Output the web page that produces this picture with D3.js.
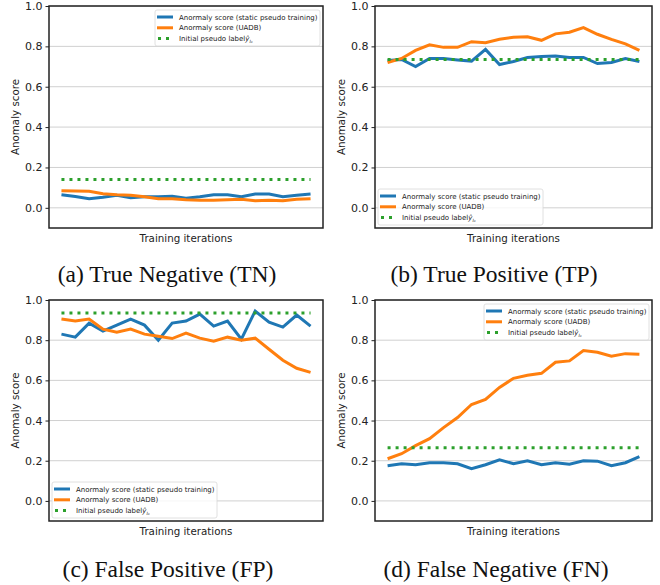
<!DOCTYPE html>
<html>
<head>
<meta charset="utf-8">
<script src="https://cdn.jsdelivr.net/npm/d3@7"></script>
<style>
  body { margin: 0; background: #fff; }
  svg { display: block; }
</style>
</head>
<body>
<script>
var width = 660,
    height = 585;

// 19 training iterations per panel
var iterations = d3.range(19);
var yTicks = [0.0, 0.2, 0.4, 0.6, 0.8, 1.0];

var seriesNames = ["Anormaly score (static pseudo training)", "Anormaly score (UADB)", "Initial pseudo label"];
var captions = ["(a) True Negative (TN)", "(b) True Positive (TP)", "(c) False Positive (FP)", "(d) False Negative (FN)"];

// (a) TN
var tnStatic = [0.065, 0.056, 0.045, 0.052, 0.062, 0.050, 0.055, 0.055, 0.057, 0.048, 0.055, 0.065, 0.065, 0.055, 0.068, 0.068, 0.055, 0.062, 0.068];
var tnUadb   = [0.085, 0.083, 0.082, 0.070, 0.065, 0.062, 0.055, 0.045, 0.045, 0.040, 0.038, 0.038, 0.040, 0.042, 0.035, 0.037, 0.035, 0.042, 0.045];
var tnInit = 0.14;

// (b) TP
var tpStatic = [0.730, 0.735, 0.700, 0.740, 0.740, 0.733, 0.727, 0.785, 0.710, 0.725, 0.745, 0.750, 0.752, 0.745, 0.745, 0.715, 0.720, 0.740, 0.725];
var tpUadb   = [0.720, 0.740, 0.780, 0.808, 0.795, 0.795, 0.823, 0.818, 0.835, 0.845, 0.848, 0.830, 0.862, 0.870, 0.893, 0.860, 0.835, 0.812, 0.780];
var tpInit = 0.735;

// (c) FP
var fpStatic = [0.830, 0.815, 0.885, 0.845, 0.875, 0.905, 0.875, 0.800, 0.885, 0.895, 0.930, 0.870, 0.895, 0.805, 0.945, 0.890, 0.865, 0.925, 0.870];
var fpUadb   = [0.905, 0.895, 0.905, 0.855, 0.840, 0.855, 0.830, 0.820, 0.808, 0.835, 0.810, 0.795, 0.815, 0.800, 0.810, 0.755, 0.700, 0.660, 0.640];
var fpInit = 0.935;

// (d) FN
var fnStatic = [0.175, 0.185, 0.180, 0.190, 0.190, 0.185, 0.160, 0.180, 0.205, 0.185, 0.200, 0.180, 0.190, 0.183, 0.200, 0.198, 0.175, 0.190, 0.220];
var fnUadb   = [0.210, 0.235, 0.275, 0.310, 0.365, 0.415, 0.480, 0.505, 0.565, 0.610, 0.625, 0.635, 0.690, 0.697, 0.748, 0.740, 0.720, 0.733, 0.730];
var fnInit = 0.265;

var panels = [
    {s: tnStatic, u: tnUadb, init: tnInit, left: 49,  top: 6,   right: 323, bottom: 228, legend: "ur", cap: captions[0], capX: 167, capY: 282},
    {s: tpStatic, u: tpUadb, init: tpInit, left: 375, top: 6,   right: 652, bottom: 228, legend: "ll", cap: captions[1], capX: 494, capY: 282},
    {s: fpStatic, u: fpUadb, init: fpInit, left: 49,  top: 300, right: 323, bottom: 521, legend: "ll", cap: captions[2], capX: 168, capY: 577},
    {s: fnStatic, u: fnUadb, init: fnInit, left: 375, top: 300, right: 652, bottom: 521, legend: "ur", cap: captions[3], capX: 496, capY: 577}
];

var colors = ["#1f77b4", "#ff7f0e", "#2ca02c"];
var sans = "'DejaVu Sans', sans-serif";

var svg = d3.select("body").append("svg")
    .attr("width", width)
    .attr("height", height);

panels.forEach(function(p) {
    var x = d3.scaleLinear().domain([-0.9, 18.9]).range([p.left, p.right]);
    var y = d3.scaleLinear().domain([-0.1, 1.0]).range([p.bottom, p.top]);
    var g = svg.append("g");

    // grid
    g.selectAll(".grid").data(yTicks).enter().append("line")
        .attr("x1", p.left).attr("x2", p.right)
        .attr("y1", function(d) { return y(d); })
        .attr("y2", function(d) { return y(d); })
        .attr("stroke", "#d0d0d0")
        .attr("stroke-width", 1);

    // y axis
    var yAxis = d3.axisLeft(y).tickValues(yTicks).tickFormat(d3.format(".1f")).tickSize(3.5).tickPadding(3);
    var ax = g.append("g").attr("transform", "translate(" + p.left + ",0)").call(yAxis);
    ax.select(".domain").remove();
    ax.selectAll("text").attr("font-family", sans).attr("font-size", 11).attr("fill", "#222");
    ax.selectAll("line").attr("stroke", "#222");

    var line = d3.line()
        .x(function(d, i) { return x(iterations[i]); })
        .y(function(d) { return y(d); });

    g.append("path").datum(p.s)
        .attr("d", line).attr("fill", "none")
        .attr("stroke", colors[0]).attr("stroke-width", 3);
    g.append("path").datum(p.u)
        .attr("d", line).attr("fill", "none")
        .attr("stroke", colors[1]).attr("stroke-width", 3);
    g.append("path").datum(iterations.map(function() { return p.init; }))
        .attr("d", line).attr("fill", "none")
        .attr("stroke", colors[2]).attr("stroke-width", 3)
        .attr("stroke-dasharray", "3,5");

    // frame
    g.append("rect")
        .attr("x", p.left).attr("y", p.top)
        .attr("width", p.right - p.left).attr("height", p.bottom - p.top)
        .attr("fill", "none").attr("stroke", "#222").attr("stroke-width", 1.5);

    // legend
    var lw = 165, lh = 36;
    var lx = p.legend === "ur" ? p.right - lw - 3 : p.left + 3;
    var ly = p.legend === "ur" ? p.top + 4 : p.bottom - lh - 3;
    var lg = g.append("g").attr("transform", "translate(" + lx + "," + ly + ")");
    lg.append("rect").attr("width", lw).attr("height", lh)
        .attr("rx", 2).attr("fill", "rgba(255,255,255,0.8)")
        .attr("stroke", "#d8d8d8").attr("stroke-width", 0.8);
    seriesNames.forEach(function(name, i) {
        var ry = 7 + i * 10.8;
        var h = lg.append("line")
            .attr("x1", 2).attr("x2", 18)
            .attr("y1", ry).attr("y2", ry)
            .attr("stroke", colors[i]).attr("stroke-width", 3);
        if (i === 2) h.attr("stroke-dasharray", "3,5").attr("x1", 3);
        var t = lg.append("text")
            .attr("x", 24).attr("y", ry + 2.5)
            .attr("font-family", sans).attr("font-size", 7)
            .attr("fill", "#222")
            .text(name);
        if (i === 2) {
            t.append("tspan").attr("font-style", "italic").text("ŷ");
            t.append("tspan").attr("font-size", 4.5).attr("dy", 1.5).attr("font-style", "italic").text("I₀");
        }
    });

    // axis labels
    g.append("text")
        .attr("x", (p.left + p.right) / 2).attr("y", p.bottom + 14)
        .attr("text-anchor", "middle")
        .attr("font-family", sans).attr("font-size", 10.3).attr("fill", "#222")
        .text("Training iterations");
    g.append("text")
        .attr("transform", "translate(" + (p.left - 30) + "," + ((p.top + p.bottom) / 2) + ") rotate(-90)")
        .attr("text-anchor", "middle")
        .attr("font-family", sans).attr("font-size", 10.3).attr("fill", "#222")
        .text("Anomaly score");

    // caption
    g.append("text")
        .attr("x", p.capX).attr("y", p.capY)
        .attr("text-anchor", "middle")
        .attr("font-family", "'Liberation Serif', 'Times New Roman', serif")
        .attr("font-size", 23.5).attr("fill", "#111")
        .text(p.cap);
});
</script>
</body>
</html>
